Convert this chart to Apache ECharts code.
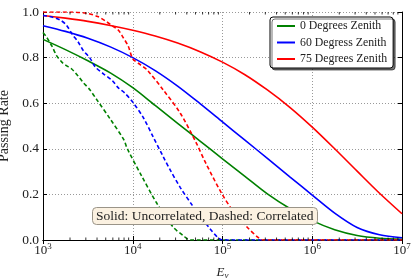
<!DOCTYPE html>
<html><head><meta charset="utf-8">
<script src="https://cdn.jsdelivr.net/npm/echarts@6.0.0/dist/echarts.min.js"></script>
<style>html,body{margin:0;padding:0;background:#fff}#c{width:416px;height:279px}</style>
</head><body><div id="c"></div><script>
// ---- data (x values are log10 of neutrino energy) ----
const tickExponents = [3, 4, 5, 6, 7];
const minorMultipliers = [2, 3, 4, 5, 6, 7, 8, 9];
const seriesNames = ['0 Degrees Zenith', '60 Degress Zenith', '75 Degrees Zenith'];
const annotationText = 'Solid: Uncorrelated, Dashed: Correlated';

const solidLogE = [3.0, 3.25, 3.5, 3.75, 4.0, 4.25, 4.5, 4.75, 5.0, 5.25, 5.5, 5.75, 6.0, 6.25, 6.5, 6.75, 7.0];
const greenSolid = [0.88, 0.835, 0.786, 0.733, 0.668, 0.59, 0.512, 0.434, 0.356, 0.279, 0.202, 0.138, 0.085, 0.045, 0.02, 0.008, 0.003];
const blueSolid  = [0.94, 0.915, 0.885, 0.847, 0.80, 0.743, 0.675, 0.598, 0.518, 0.438, 0.358, 0.277, 0.197, 0.118, 0.055, 0.023, 0.01];
const redSolid   = [0.985, 0.973, 0.959, 0.941, 0.92, 0.895, 0.864, 0.826, 0.78, 0.725, 0.658, 0.582, 0.495, 0.40, 0.302, 0.205, 0.115];

const greenDashedLogE = [3.0, 3.04, 3.1, 3.15, 3.21, 3.26, 3.32, 3.39, 3.45, 3.52, 3.6, 3.75, 3.9, 3.94, 4.1, 4.27, 4.45, 4.56, 4.64, 5.0, 6.0, 7.0];
const greenDashed = [0.91, 0.89, 0.85, 0.81, 0.78, 0.765, 0.75, 0.72, 0.69, 0.66, 0.615, 0.53, 0.44, 0.40, 0.28, 0.16, 0.057, 0.02, 0, 0, 0, 0];

const blueDashedLogE = [3.0, 3.1, 3.19, 3.26, 3.33, 3.39, 3.45, 3.52, 3.58, 3.67, 3.77, 3.84, 3.91, 4.0, 4.12, 4.23, 4.34, 4.42, 4.53, 4.66, 4.76, 4.86, 4.95, 5.0, 6.0, 7.0];
const blueDashed = [0.985, 0.978, 0.965, 0.943, 0.90, 0.87, 0.83, 0.80, 0.76, 0.73, 0.70, 0.667, 0.645, 0.605, 0.535, 0.45, 0.365, 0.305, 0.23, 0.154, 0.10, 0.05, 0.01, 0, 0, 0];

const redDashedLogE = [3.0, 3.3, 3.49, 3.61, 3.71, 3.77, 3.84, 3.89, 3.95, 4.0, 4.08, 4.16, 4.34, 4.53, 4.71, 4.81, 4.99, 5.13, 5.27, 5.4, 5.45, 6.0, 7.0];
const redDashed = [1.0, 1.0, 0.994, 0.98, 0.957, 0.94, 0.92, 0.89, 0.85, 0.795, 0.77, 0.746, 0.658, 0.556, 0.424, 0.34, 0.205, 0.12, 0.058, 0.01, 0, 0, 0];

// ---- build ----
const SERIF = '"Liberation Serif", "DejaVu Serif", serif';
const colors = ['#008000', '#0000ff', '#ff0000'];
const pairs = (xs, ys) => xs.map((x, i) => [Math.pow(10, x), ys[i]]);

const minorVals = [];
tickExponents.slice(0, -1).forEach(e => minorMultipliers.forEach(m => minorVals.push(m * Math.pow(10, e))));

function lineSeries(name, data, color, dashed) {
  return {
    type: 'line', name: name, data: data, showSymbol: false, symbol: 'none',
    smooth: 0.3, silent: true,
    lineStyle: { color: color, width: 1.6, type: dashed ? [4, 2.6] : 'solid' },
    itemStyle: { color: color }
  };
}

const xAxisBase = {
  type: 'log', logBase: 10, min: Math.pow(10, tickExponents[0]), max: Math.pow(10, tickExponents[tickExponents.length - 1]),
  axisLine: { show: true, lineStyle: { color: '#000', width: 1 } },
  axisTick: { show: true, inside: true, length: 4, lineStyle: { color: '#000', width: 1 } },
  splitLine: { show: false }, minorTick: { show: false }
};
const yAxisBase = {
  type: 'value', min: 0, max: 1, interval: 0.2,
  axisLine: { show: true, lineStyle: { color: '#000', width: 1 } },
  axisTick: { show: true, inside: true, length: 4, lineStyle: { color: '#000', width: 1 } },
  splitLine: { show: false }
};

const chart = echarts.init(document.getElementById('c'), null, { renderer: 'canvas' });
chart.setOption({
  animation: false,
  backgroundColor: '#ffffff',
  grid: { left: 43, right: 14, top: 12, bottom: 39, outerBoundsMode: 'none', containLabel: false },
  title: {
    text: annotationText, left: 92, top: 207,
    padding: [2, 4, 2, 4],
    backgroundColor: '#fbf1e1', borderColor: '#9a9488', borderWidth: 1, borderRadius: 4,
    textStyle: { fontFamily: SERIF, fontSize: 13.5, fontWeight: 'normal', color: '#222' }
  },
  legend: {
    data: seriesNames, orient: 'vertical', left: 270, top: 17, icon: 'rect',
    padding: [1, 6, 1, 7], itemGap: 0.5, itemWidth: 18, itemHeight: 2, itemTextGap: 11,
    backgroundColor: '#ffffff', borderColor: '#000', borderWidth: 1, borderRadius: 3,
    shadowColor: 'rgba(0,0,0,0.55)', shadowBlur: 0, shadowOffsetX: 2, shadowOffsetY: 2,
    textStyle: { fontFamily: SERIF, fontSize: 11.8, color: '#222', lineHeight: 16 }
  },
  xAxis: [
    Object.assign({}, xAxisBase, {
      position: 'bottom',
      name: '{e|E}{s|ν}', nameLocation: 'middle', nameGap: 22,
      nameTextStyle: { rich: {
        e: { fontFamily: SERIF, fontStyle: 'italic', fontSize: 13, color: '#222', lineHeight: 16 },
        s: { fontFamily: SERIF, fontStyle: 'italic', fontSize: 9, color: '#222', lineHeight: 9, padding: [7, 0, 0, 0] }
      } },
      splitLine: { show: true, lineStyle: { color: '#999', width: 1, type: [1, 2] } },
      axisLabel: {
        margin: 3,
        formatter: v => '{b|10}{s|' + Math.round(Math.log10(v)) + '}',
        rich: {
          b: { fontFamily: SERIF, fontSize: 13, color: '#222', lineHeight: 16 },
          s: { fontFamily: SERIF, fontSize: 9, color: '#222', lineHeight: 8, padding: [0, 0, 8, 0] }
        }
      }
    }),
    Object.assign({}, xAxisBase, { position: 'top', axisLabel: { show: false } })
  ],
  yAxis: [
    Object.assign({}, yAxisBase, {
      position: 'left',
      name: 'Passing Rate', nameLocation: 'middle', nameGap: 25, nameRotate: 90,
      nameTextStyle: { fontFamily: SERIF, fontSize: 14, color: '#222' },
      splitLine: { show: true, lineStyle: { color: '#999', width: 1, type: [1, 2] } },
      axisLabel: { margin: 4, fontFamily: SERIF, fontSize: 13.5, color: '#222', formatter: v => v.toFixed(1) }
    }),
    Object.assign({}, yAxisBase, { position: 'right', axisLabel: { show: false } })
  ],
  series: [
    lineSeries(seriesNames[0], pairs(solidLogE, greenSolid), colors[0], false),
    lineSeries(seriesNames[1], pairs(solidLogE, blueSolid), colors[1], false),
    lineSeries(seriesNames[2], pairs(solidLogE, redSolid), colors[2], false),
    lineSeries('0 deg correlated', pairs(greenDashedLogE, greenDashed), colors[0], true),
    lineSeries('60 deg correlated', pairs(blueDashedLogE, blueDashed), colors[1], true),
    lineSeries('75 deg correlated', pairs(redDashedLogE, redDashed), colors[2], true),
    { type: 'scatter', silent: true, clip: false, z: 5, symbol: 'rect', symbolSize: [1, 2.5], symbolOffset: [0, -1.25],
      itemStyle: { color: '#000' }, data: minorVals.map(v => [v, 0]) },
    { type: 'scatter', silent: true, clip: false, z: 5, symbol: 'rect', symbolSize: [1, 2.5], symbolOffset: [0, 1.25],
      itemStyle: { color: '#000' }, data: minorVals.map(v => [v, 1]) }
  ]
});
</script></body></html>
